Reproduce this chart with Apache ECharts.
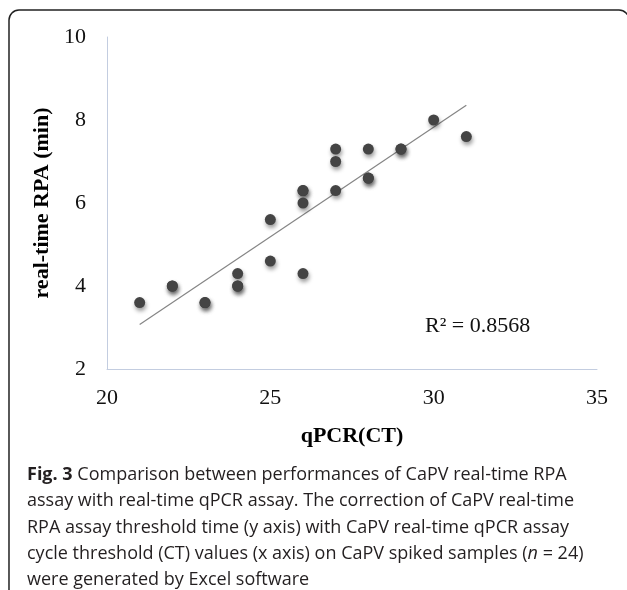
<!DOCTYPE html>
<html>
<head>
<meta charset="utf-8">
<script src="https://cdn.jsdelivr.net/npm/echarts@6/dist/echarts.min.js"></script>
<style>
html,body{margin:0;padding:0;background:#fff;}
#chart{width:627px;height:590px;}
</style>
</head>
<body>
<div id="chart"></div>
<script>
// qPCR CT values (x) and real-time RPA threshold times in minutes (y), n = 24
const qpcrCT = [21, 22, 22, 23, 23, 24, 24, 24, 25, 25, 26, 26, 26, 26, 27, 27, 27, 28, 28, 28, 29, 29, 30, 31];
const rpaMin = [3.6, 4.0, 4.0, 3.6, 3.6, 4.3, 4.0, 4.0, 5.6, 4.6, 4.3, 6.3, 6.3, 6.0, 7.3, 7.0, 6.3, 7.3, 6.6, 6.6, 7.3, 7.3, 8.0, 7.6];
const xTicks = [20, 25, 30, 35];
const yTicks = [2, 4, 6, 8, 10];
const r2Label = 'R² = 0.8568';
const xName = 'qPCR(CT)';
const yName = 'real-time RPA (min)';
const captionLines = [
  '{b|Fig. 3} Comparison between performances of CaPV real-time RPA',
  'assay with real-time qPCR assay. The correction of CaPV real-time',
  'RPA assay threshold time (y axis) with CaPV real-time qPCR assay',
  'cycle threshold (CT) values (x axis) on CaPV spiked samples ({i|n} = 24)',
  'were generated by Excel software'
];

// Excel linear trendline: least squares fit over the data
const n = qpcrCT.length;
const mx = qpcrCT.reduce((a, b) => a + b, 0) / n;
const my = rpaMin.reduce((a, b) => a + b, 0) / n;
let sxy = 0, sxx = 0;
for (let i = 0; i < n; i++) { sxy += (qpcrCT[i] - mx) * (rpaMin[i] - my); sxx += (qpcrCT[i] - mx) ** 2; }
const slope = sxy / sxx, icpt = my - slope * mx;
const xMin = Math.min(...qpcrCT), xMax = Math.max(...qpcrCT);
const trend = [[xMin, icpt + slope * xMin], [xMax, icpt + slope * xMax]];

const serif = '"Liberation Serif", "Times New Roman", serif';
const sans = '"Open Sans", "Noto Sans", sans-serif';

const chart = echarts.init(document.getElementById('chart'), null, {renderer: 'canvas'});
const captionGraphics = captionLines.map((t, i) => ({
  type: 'text',
  left: 27,
  top: 466 + i * 26.3,
  style: {
    text: t,
    font: '18px ' + sans,
    fill: '#231f20',
    rich: {
      b: {fontFamily: sans, fontSize: 18, fontWeight: 'bold', fill: '#231f20'},
      i: {fontFamily: sans, fontSize: 18, fontStyle: 'italic', fill: '#231f20'}
    }
  }
}));

chart.setOption({
  animation: false,
  backgroundColor: '#ffffff',
  grid: {left: 107, right: 30, top: 37, bottom: 221, containLabel: false},
  xAxis: {
    type: 'value', min: xTicks[0], max: xTicks[xTicks.length - 1], interval: 5,
    name: xName, nameLocation: 'middle', nameGap: 56,
    nameTextStyle: {fontFamily: serif, fontSize: 22, fontWeight: 'bold', color: '#000'},
    axisLine: {show: true, lineStyle: {color: '#c3cde0', width: 1}},
    axisTick: {show: false},
    splitLine: {show: false},
    axisLabel: {fontFamily: serif, fontSize: 22, color: '#111', margin: 18}
  },
  yAxis: {
    type: 'value', min: yTicks[0], max: yTicks[yTicks.length - 1], interval: 2,
    name: yName, nameLocation: 'middle', nameGap: 53,
    nameTextStyle: {fontFamily: serif, fontSize: 22, fontWeight: 'bold', color: '#000'},
    axisLine: {show: true, lineStyle: {color: '#c3cde0', width: 1}},
    axisTick: {show: false},
    splitLine: {show: false},
    axisLabel: {fontFamily: serif, fontSize: 22, color: '#111', margin: 21}
  },
  series: [
    {
      type: 'line', data: trend, symbol: 'none', silent: true,
      lineStyle: {color: '#858585', width: 1.2}, z: 1
    },
    {
      type: 'scatter', data: qpcrCT.map((x, i) => [x, rpaMin[i]]),
      symbol: 'circle', symbolSize: 11,
      itemStyle: {color: '#444444', opacity: 1, shadowBlur: 4, shadowOffsetX: 1, shadowOffsetY: 3, shadowColor: 'rgba(0,0,0,0.4)'},
      z: 2
    }
  ],
  graphic: [
    {
      type: 'rect', silent: true,
      shape: {x: 9, y: 10, width: 620, height: 640, r: 10},
      style: {fill: 'none', stroke: '#222', lineWidth: 1.5}
    },
    {
      type: 'text', left: 425, top: 315,
      style: {text: r2Label, font: '22px ' + serif, fill: '#111'}
    }
  ].concat(captionGraphics)
});
</script>
</body>
</html>
